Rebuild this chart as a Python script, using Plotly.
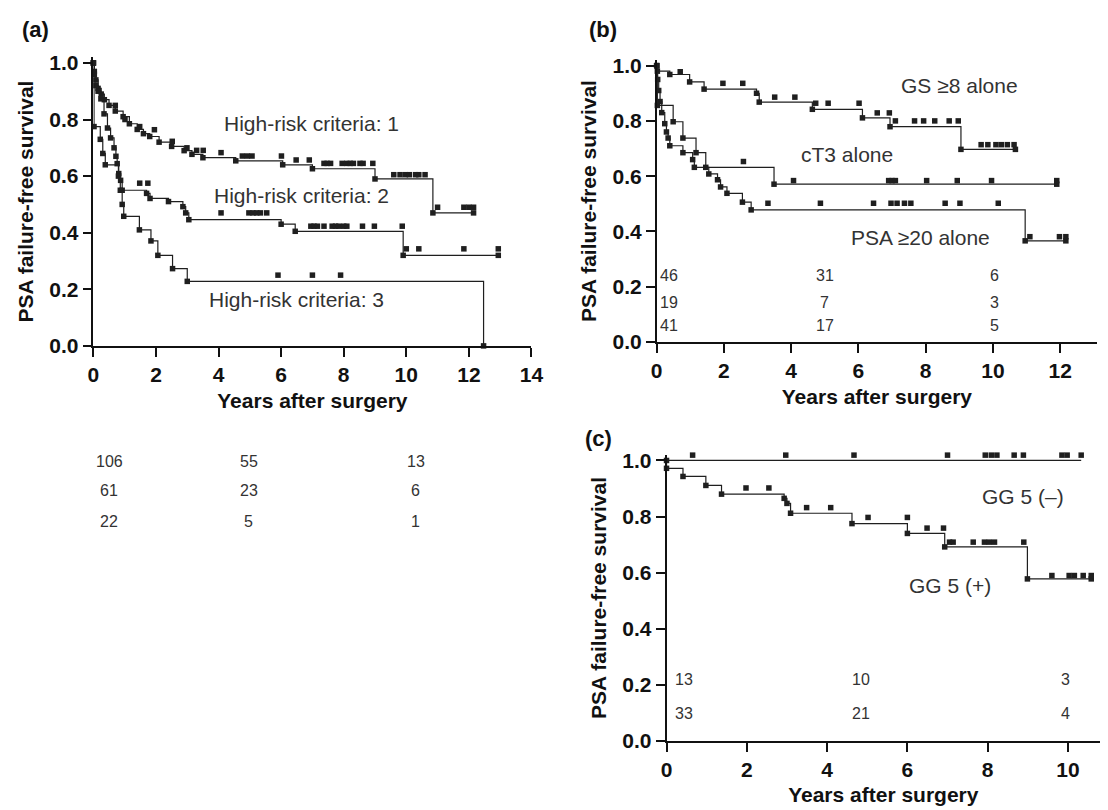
import plotly.graph_objects as go

W, H = 1108, 810
FONT = "Liberation Sans, Arial, Helvetica, sans-serif"
INK = "#1f1f1f"
GREY = "#333333"

# ---------------- Panel (a) data ----------------
a1_t = [0, 0.03, 0.08, 0.15, 0.25, 0.35, 0.5, 0.7, 0.95, 1.15, 1.4, 1.6, 1.8, 2.1, 2.5, 2.9, 3.15, 3.5, 4.55, 6.05, 7.0, 9.0, 10.85, 12.15]
a1_s = [1.0, 0.97, 0.94, 0.91, 0.89, 0.87, 0.85, 0.83, 0.81, 0.785, 0.765, 0.75, 0.74, 0.72, 0.705, 0.69, 0.677, 0.665, 0.654, 0.64, 0.626, 0.59, 0.47, 0.47]
a1_ct = [0.7, 1.01, 1.48, 1.95, 2.52, 2.99, 3.3, 3.51, 4.08, 4.76, 4.92, 5.07, 6.01, 6.48, 6.9,
         7.37, 7.47, 7.58, 7.95, 8.1, 8.21, 8.31, 8.52, 8.62, 8.93,
         9.6, 9.8, 9.97, 10.1, 10.3, 10.4, 10.6, 11.0, 11.84, 12.0, 12.15]
a1_cs = [0.85, 0.80, 0.775, 0.764, 0.723, 0.70, 0.691, 0.691, 0.683, 0.671, 0.671, 0.671, 0.671, 0.657, 0.657,
         0.645, 0.645, 0.645, 0.645, 0.645, 0.645, 0.645, 0.645, 0.645, 0.645,
         0.605, 0.605, 0.605, 0.605, 0.605, 0.605, 0.605, 0.49, 0.49, 0.49, 0.49]

a2_t = [0, 0.03, 0.08, 0.15, 0.24, 0.34, 0.45, 0.55, 0.66, 0.72, 0.76, 0.81, 0.87, 0.92, 1.7, 1.81, 2.4, 2.86, 2.95, 3.05, 6.0, 6.45, 9.9, 12.94]
a2_s = [1.0, 0.96, 0.92, 0.90, 0.873, 0.82, 0.77, 0.735, 0.70, 0.67, 0.644, 0.609, 0.585, 0.55, 0.539, 0.521, 0.51, 0.492, 0.47, 0.446, 0.43, 0.405, 0.32, 0.32]
a2_ct = [1.48, 1.74, 4.08, 4.97, 5.1, 5.22, 5.34, 5.54,
         6.95, 7.05, 7.16, 7.37, 7.63, 7.74, 7.84, 8.0, 8.1, 8.6, 8.98, 9.87,
         10.0, 10.4, 11.84, 12.94]
a2_cs = [0.575, 0.575, 0.47, 0.47, 0.47, 0.47, 0.47, 0.47,
         0.423, 0.423, 0.423, 0.423, 0.423, 0.423, 0.423, 0.423, 0.423, 0.423, 0.423, 0.423,
         0.343, 0.343, 0.343, 0.343]

a3_t = [0, 0.02, 0.22, 0.3, 0.38, 0.8, 0.86, 0.92, 0.97, 1.47, 1.84, 2.06, 2.53, 3.0, 12.47]
a3_s = [1.0, 0.775, 0.73, 0.68, 0.64, 0.60, 0.55, 0.50, 0.458, 0.41, 0.371, 0.32, 0.273, 0.228, 0.0]
a3_ct = [5.9, 7.0, 7.9]
a3_cs = [0.25, 0.25, 0.25]

a_labels = ["High-risk criteria: 1", "High-risk criteria: 2", "High-risk criteria: 3"]
a_label_x = [6.97, 6.65, 6.49]
a_label_y = [0.787, 0.533, 0.164]

a_risk_x = [0.5, 4.97, 10.3]
a_risk_y = [-0.407, -0.511, -0.62]
a_risk = [["106", "55", "13"], ["61", "23", "6"], ["22", "5", "1"]]

# ---------------- Panel (b) data ----------------
gs_t = [0, 0.02, 0.39, 0.98, 1.41, 2.97, 3.05, 4.63, 6.12, 6.94, 9.05, 10.67]
gs_s = [1.0, 0.98, 0.968, 0.941, 0.915, 0.90, 0.868, 0.842, 0.811, 0.779, 0.697, 0.697]
gs_ct = [0.70, 1.97, 2.56, 3.51, 4.11, 4.73, 5.1, 6.02, 6.56, 6.92, 7.1, 7.67, 7.94, 8.27, 8.7, 8.97,
         9.65, 9.85, 10.09, 10.25, 10.43, 10.63]
gs_cs = [0.978, 0.936, 0.936, 0.886, 0.886, 0.864, 0.864, 0.864, 0.829, 0.829, 0.80, 0.80, 0.80, 0.80, 0.80, 0.80,
         0.714, 0.714, 0.714, 0.714, 0.714, 0.714]

ct3_t = [0, 0.02, 0.49, 0.78, 1.17, 1.46, 3.49, 11.9]
ct3_s = [1.0, 0.856, 0.797, 0.738, 0.685, 0.632, 0.571, 0.571]
ct3_ct = [2.58, 4.07, 6.9, 7.0, 7.1, 8.03, 8.94, 9.96, 11.9]
ct3_cs = [0.653, 0.584, 0.584, 0.584, 0.584, 0.584, 0.584, 0.584, 0.584]

psa_t = [0, 0.03, 0.06, 0.1, 0.15, 0.24, 0.29, 0.34, 0.39, 0.78, 1.07, 1.12, 1.55, 1.81, 1.9, 2.09, 2.55, 2.81, 10.96, 12.17]
psa_s = [1.0, 0.95, 0.91, 0.87, 0.83, 0.79, 0.76, 0.738, 0.71, 0.685, 0.66, 0.632, 0.608, 0.587, 0.561, 0.538, 0.506, 0.478, 0.366, 0.366]
psa_ct = [3.31, 4.87, 6.45, 6.97, 7.15, 7.37, 7.56, 8.58, 9.02, 10.16, 11.1, 11.98, 12.17]
psa_cs = [0.502, 0.502, 0.502, 0.502, 0.502, 0.502, 0.502, 0.502, 0.502, 0.502, 0.381, 0.381, 0.381]

b_labels = ["GS \u22658 alone", "cT3 alone", "PSA \u226520 alone"]
b_label_x = [9.0, 5.65, 7.86]
b_label_y = [0.928, 0.679, 0.379]

b_risk_x = [0.37, 5.0, 10.06]
b_risk_y = [0.242, 0.142, 0.059]
b_risk = [["46", "31", "6"], ["19", "7", "3"], ["41", "17", "5"]]

# ---------------- Panel (c) data ----------------
neg_t = [0, 10.33]
neg_s = [1.0, 1.0]
neg_ct = [0.65, 2.97, 4.67, 7.0, 7.94, 8.09, 8.23, 8.66, 8.89, 9.85, 9.98, 10.33]
neg_cs = [1.019] * 12

pos_t = [0, 0.0, 0.41, 0.98, 1.37, 2.93, 3.0, 3.09, 4.62, 6.0, 6.93, 8.99, 10.58]
pos_s = [1.0, 0.972, 0.943, 0.911, 0.88, 0.865, 0.847, 0.812, 0.775, 0.74, 0.692, 0.578, 0.578]
pos_ct = [1.98, 2.55, 3.49, 4.09, 5.02, 6.0, 6.49, 6.9, 7.05, 7.14, 7.64, 7.92, 8.04, 8.17, 8.9,
          9.6, 10.03, 10.16, 10.38, 10.58]
pos_cs = [0.902, 0.902, 0.832, 0.832, 0.797, 0.797, 0.759, 0.759, 0.709, 0.709, 0.709, 0.709, 0.709, 0.709, 0.709,
          0.59, 0.59, 0.59, 0.59, 0.59]

c_labels = ["GG 5 (\u2013)", "GG 5 (+)"]
c_label_x = [8.87, 7.05]
c_label_y = [0.87, 0.556]

c_risk_x = [0.43, 4.84, 9.95]
c_risk_y = [0.219, 0.097]
c_risk = [["13", "10", "3"], ["33", "21", "4"]]

# ---------------- figure ----------------
fig = go.Figure()


def step(x, y, xa, ya, markers=True):
    fig.add_trace(go.Scatter(
        x=x, y=y, xaxis=xa, yaxis=ya, mode="lines+markers" if markers else "lines",
        line=dict(shape="hv", color=INK, width=1.2),
        marker=dict(symbol="square", size=5.5, color=INK),
        showlegend=False, hoverinfo="skip", cliponaxis=False))


def cens(x, y, xa, ya):
    fig.add_trace(go.Scatter(
        x=x, y=y, xaxis=xa, yaxis=ya, mode="markers",
        marker=dict(symbol="square", size=5.5, color=INK),
        showlegend=False, hoverinfo="skip", cliponaxis=False))


step(a1_t, a1_s, "x", "y"); cens(a1_ct, a1_cs, "x", "y")
step(a2_t, a2_s, "x", "y"); cens(a2_ct, a2_cs, "x", "y")
step(a3_t, a3_s, "x", "y"); cens(a3_ct, a3_cs, "x", "y")

step(gs_t, gs_s, "x2", "y2"); cens(gs_ct, gs_cs, "x2", "y2")
step(ct3_t, ct3_s, "x2", "y2"); cens(ct3_ct, ct3_cs, "x2", "y2")
step(psa_t, psa_s, "x2", "y2"); cens(psa_ct, psa_cs, "x2", "y2")

step(neg_t, neg_s, "x3", "y3", markers=False); cens(neg_ct, neg_cs, "x3", "y3")
step(pos_t, pos_s, "x3", "y3"); cens(pos_ct, pos_cs, "x3", "y3")


def xdom(p0, p1):
    return [p0 / W, p1 / W]


def ydom(pbot, ptop):
    return [1 - pbot / H, 1 - ptop / H]


YRANGE = [0, 1.02]
A_YDOM = ydom(339, 44.2)

tickfont = dict(family=FONT, size=21, color="#111", weight="bold")
titlefont = dict(family=FONT, size=21, color="#111", weight="bold")

common_x = dict(showgrid=False, zeroline=False, showline=True, linecolor="#111", linewidth=1.5,
                ticks="outside", ticklen=9, tickwidth=1.5, tickcolor="#111", tickfont=tickfont,
                fixedrange=True)
common_y = dict(common_x, tickformat=".1f", dtick=0.2, tick0=0)

fig.update_layout(
    width=W, height=H, margin=dict(l=0, r=0, t=0, b=0),
    paper_bgcolor="white", plot_bgcolor="white", showlegend=False,
    xaxis=dict(common_x, domain=xdom(80.7, 526), range=[0, 14], dtick=2, tick0=0, anchor="y",
               title=dict(text="Years after surgery", font=titlefont, standoff=8)),
    yaxis=dict(common_y, domain=A_YDOM, range=YRANGE, anchor="x",
               title=dict(text="PSA failure-free survival", font=titlefont, standoff=10)),
    xaxis2=dict(common_x, domain=xdom(653.3, 1101), range=[0, 13.1], dtick=2, tick0=0, anchor="y2",
                title=dict(text="Years after surgery", font=titlefont, standoff=8)),
    yaxis2=dict(common_y, domain=ydom(335, 47.1), range=YRANGE, anchor="x2",
                title=dict(text="PSA failure-free survival", font=titlefont, standoff=10)),
    xaxis3=dict(common_x, domain=xdom(663.3, 1104), range=[0, 10.8], dtick=2, tick0=0, anchor="y3",
                title=dict(text="Years after surgery", font=titlefont, standoff=7)),
    yaxis3=dict(common_y, domain=ydom(742.7, 450.3), range=YRANGE, anchor="x3",
                title=dict(text="PSA failure-free survival", font=titlefont, standoff=10)),
)


def a_paper_y(v):
    # map a panel-(a) survival value (possibly below the axis) to paper coordinates
    return A_YDOM[0] + (v - YRANGE[0]) / (YRANGE[1] - YRANGE[0]) * (A_YDOM[1] - A_YDOM[0])


ann = []
labfont = dict(family=FONT, size=21, color=GREY)
riskfont = dict(family=FONT, size=16, color=GREY)

for txt, x, y in zip(a_labels, a_label_x, a_label_y):
    ann.append(dict(text=txt, x=x, y=y, xref="x", yref="y", showarrow=False, font=labfont))
for row, y in zip(a_risk, a_risk_y):
    for txt, x in zip(row, a_risk_x):
        ann.append(dict(text=txt, x=x, y=a_paper_y(y), xref="x", yref="paper",
                        showarrow=False, font=riskfont))

for txt, x, y in zip(b_labels, b_label_x, b_label_y):
    ann.append(dict(text=txt, x=x, y=y, xref="x2", yref="y2", showarrow=False, font=labfont))
for row, y in zip(b_risk, b_risk_y):
    for txt, x in zip(row, b_risk_x):
        ann.append(dict(text=txt, x=x, y=y, xref="x2", yref="y2", showarrow=False, font=riskfont))

for txt, x, y in zip(c_labels, c_label_x, c_label_y):
    ann.append(dict(text=txt, x=x, y=y, xref="x3", yref="y3", showarrow=False, font=labfont))
for row, y in zip(c_risk, c_risk_y):
    for txt, x in zip(row, c_risk_x):
        ann.append(dict(text=txt, x=x, y=y, xref="x3", yref="y3", showarrow=False, font=riskfont))

panel_font = dict(family=FONT, size=22, color="#111", weight="bold")
for txt, px, py in [("(a)", 22, 16), ("(b)", 599, 16), ("(c)", 594, 434)]:
    ann.append(dict(text=txt, x=px / W, y=1 - py / H, xref="paper", yref="paper",
                    showarrow=False, font=panel_font, xanchor="center", yanchor="middle"))

fig.update_layout(annotations=ann)
fig.write_html("out.html")
